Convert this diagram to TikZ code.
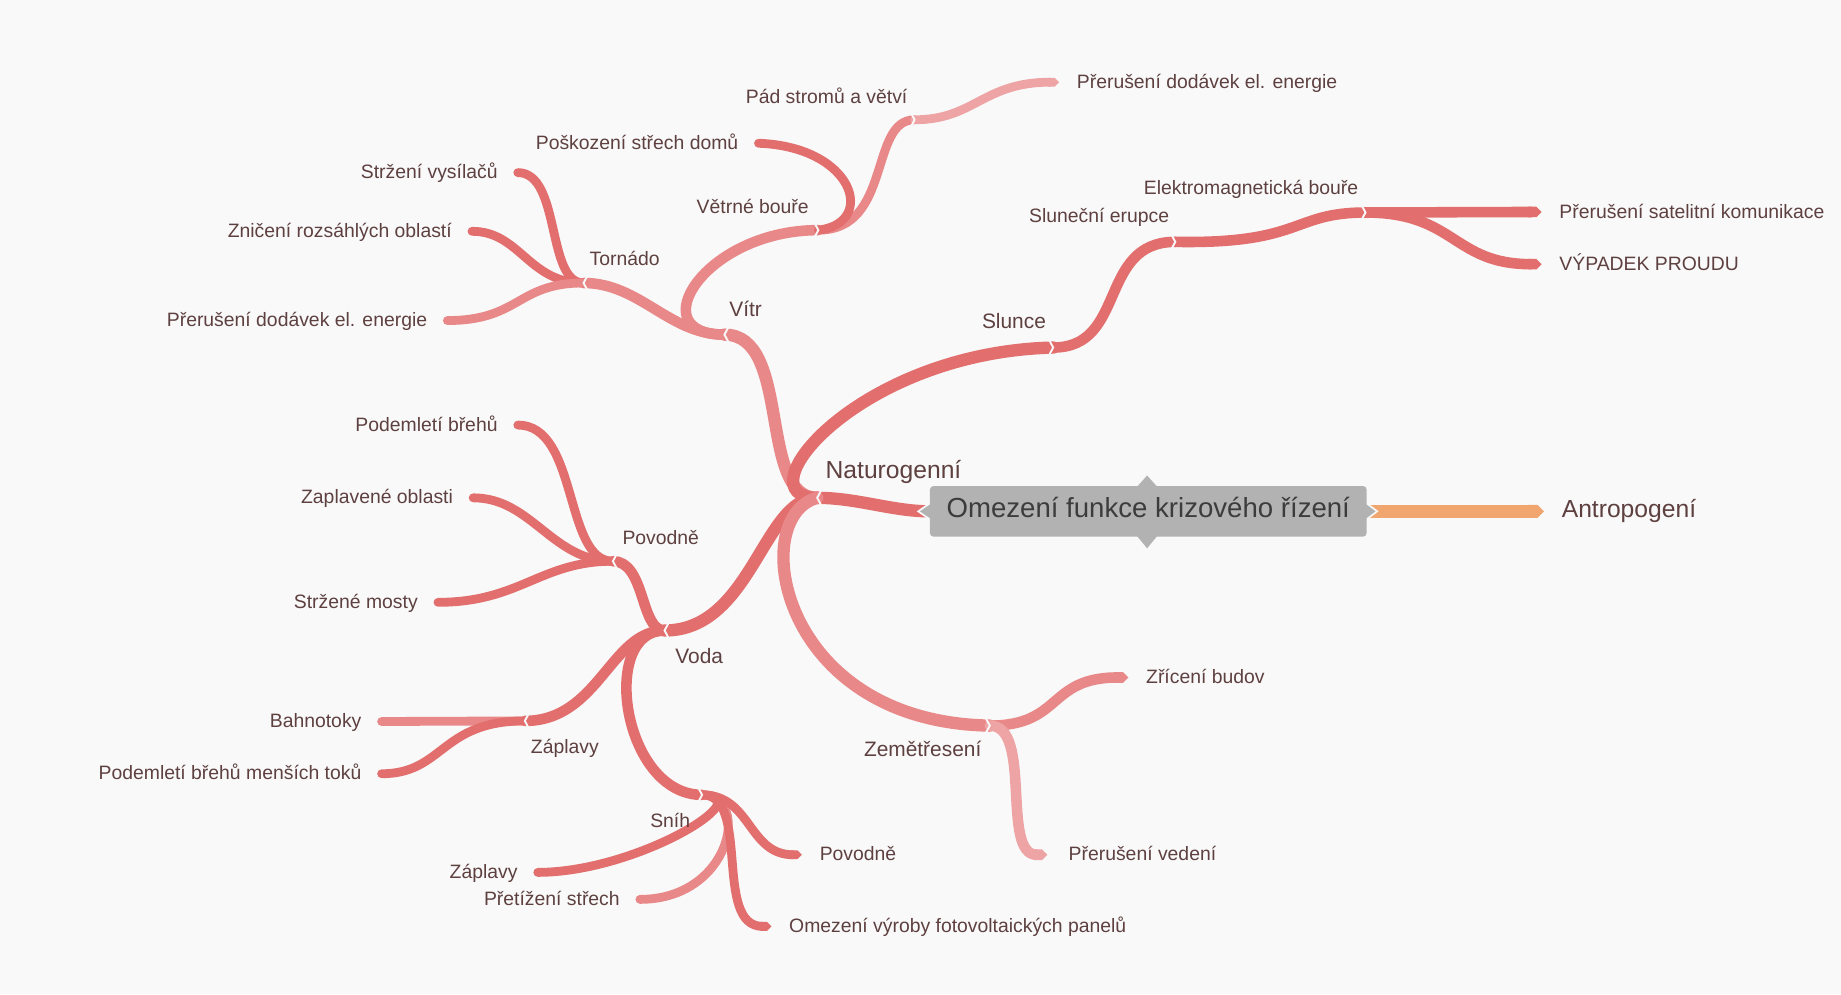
\documentclass[tikz,border=0pt]{standalone}
\usepackage{fontspec}
\setmainfont{Liberation Sans}
\usetikzlibrary{arrows.meta,positioning}
\definecolor{paper}{RGB}{249,249,249}
\definecolor{rose}{RGB}{226,110,110}
\definecolor{blush}{RGB}{232,136,136}
\definecolor{pale}{RGB}{238,164,164}
\definecolor{apricot}{RGB}{240,166,110}
\definecolor{ink}{RGB}{94,64,64}
\definecolor{slate}{RGB}{60,60,60}
\definecolor{stone}{RGB}{178,178,178}

\begin{document}
\begin{tikzpicture}[x=1pt,y=-1pt,
 every node/.style={text=ink,inner sep=0pt,text height=1.05em,text depth=0em},
 leaf/.style={font=\fontsize{16.5}{19}\selectfont},
 topic/.style={font=\fontsize{17.8}{21}\selectfont},
 rootlabel/.style={font=\fontsize{21}{25}\selectfont},
 trunk/.style={rose,line width=10.5pt,line cap=round},
 branch/.style={rose,line width=9pt,line cap=round},
 twig/.style={rose,line width=7.5pt,line cap=round},
 pointed/.style={-{Triangle Cap[]}},
 notchl/.pic={\draw[paper,line width=1.6pt,line join=miter] (3.5,-6.5)--(0,0)--(3.5,6.5);},
 notchr/.pic={\draw[paper,line width=1.6pt,line join=miter] (-3.5,-6.5)--(0,0)--(-3.5,6.5);}]
 \fill[paper] (0,0) rectangle (1568,847);
 \useasboundingbox (0,0) rectangle (1568,847);
 % topic points of the map
 \coordinate (corel) at (792,435.5);
 \coordinate (corer) at (1164,435.5);
 \coordinate (naturo) at (696,424);
 \coordinate (vitr) at (617,285);
 \coordinate (tornado) at (497,241);
 \coordinate (vetrne) at (697,196);
 \coordinate (pad) at (779,102);
 \coordinate (slunce) at (897,296);
 \coordinate (erupce) at (1001,206);
 \coordinate (elmag) at (1163,181);
 \coordinate (voda) at (566,537);
 \coordinate (povodne) at (522,478);
 \coordinate (zaplavy) at (447,614);
 \coordinate (snih) at (598,677);
 \coordinate (zeme) at (843,618);
 % free ends of the leaves
 \coordinate (vysilace) at (441,147);
 \coordinate (zniceni) at (402,197);
 \coordinate (dodavkyL) at (381,273);
 \coordinate (strechy) at (646,122);
 \coordinate (dodavkyR) at (902,70);
 \coordinate (satelit) at (1313,180.5);
 \coordinate (vypadek) at (1313,225);
 \coordinate (brehy) at (441,362);
 \coordinate (oblasti) at (403,424);
 \coordinate (mosty) at (373,513);
 \coordinate (bahno) at (325,614.5);
 \coordinate (toky) at (325,659);
 \coordinate (snihzapl) at (458,743);
 \coordinate (pretizeni) at (545,766);
 \coordinate (snihpov) at (683,728);
 \coordinate (panely) at (657,789);
 \coordinate (budovy) at (961,577);
 \coordinate (vedeni) at (892,728);
 \coordinate (antro) at (1315,435.5);

 \draw[trunk] (corel) .. controls +(-32,0) and +(34,0) .. (naturo);
 \draw[apricot,line width=11pt,pointed] (corer) -- (antro);
 \draw[trunk,blush] (naturo) .. controls +(-51,0) and +(58,0) .. (vitr);
 \draw[trunk] (naturo) .. controls +(-66,0) and +(-167,4) .. (slunce);
 \draw[trunk] (naturo) .. controls +(-46,0) and +(74,0) .. (voda);
 \draw[trunk,blush] (naturo) .. controls +(-60,16) and +(-180,-3) .. (zeme);
 % wind
 \draw[branch,blush] (vitr) .. controls +(-47,0) and +(48,0) .. (tornado);
 \draw[branch,blush] (vitr) .. controls +(-72,0) and +(-97,0) .. (vetrne);
 \draw[twig] (tornado) .. controls +(-32,0) and +(37,0) .. (vysilace);
 \draw[twig] (tornado) .. controls +(-47,0) and +(41,0) .. (zniceni);
 \draw[twig,blush] (tornado) .. controls +(-57,0) and +(62,0) .. (dodavkyL);
 \draw[twig,blush] (vetrne) .. controls +(63,0) and +(-39,0) .. (pad);
 \draw[twig] (vetrne) .. controls +(50,-6) and +(82,3) .. (strechy);
 \draw[twig,pale,pointed] (pad) .. controls +(51,0) and +(-65,0) .. (dodavkyR);
 % sun
 \draw[branch] (slunce) .. controls +(63,0) and +(-66,0) .. (erupce);
 \draw[branch] (erupce) .. controls +(109,2) and +(-63,0) .. (elmag);
 \draw[branch,pointed] (elmag) -- (satelit);
 \draw[branch,pointed] (elmag) .. controls +(77,0) and +(-76,0) .. (vypadek);
 % water
 \draw[branch] (voda) .. controls +(-21,0) and +(28,0) .. (povodne);
 \draw[branch] (voda) .. controls +(-46,0) and +(63,0) .. (zaplavy);
 \draw[branch] (voda) .. controls +(-56,0) and +(-68,0) .. (snih);
 \draw[twig] (povodne) .. controls +(-42,0) and +(52,0) .. (brehy);
 \draw[twig] (povodne) .. controls +(-52,0) and +(50,0) .. (oblasti);
 \draw[twig] (povodne) .. controls +(-62,0) and +(70,0) .. (mosty);
 \draw[twig,blush] (zaplavy) -- (bahno);
 \draw[twig] (zaplavy) .. controls +(-72,0) and +(53,0) .. (toky);
 \draw[twig] (snih) .. controls +(52,0) and +(85,0) .. (snihzapl);
 \draw[twig,blush] (snih) .. controls +(42,0) and +(78,0) .. (pretizeni);
 \draw[twig,pointed] (snih) .. controls +(42,0) and +(-46,0) .. (snihpov);
 \draw[twig,pointed] (snih) .. controls +(42,0) and +(-50,0) .. (panely);
 % earthquake
 \draw[branch,blush,pointed] (zeme) .. controls +(62,0) and +(-69,0) .. (budovy);
 \draw[branch,pale,pointed] (zeme) .. controls +(37,0) and +(-40,0) .. (vedeni);

 \pic at (naturo) {notchl};
 \pic at (vitr) {notchl};
 \pic at (tornado) {notchl};
 \pic at (voda) {notchl};
 \pic at (povodne) {notchl};
 \pic at (zaplavy) {notchl};
 \pic at (vetrne) {notchr};
 \pic at (pad) {notchr};
 \pic at (slunce) {notchr};
 \pic at (erupce) {notchr};
 \pic at (elmag) {notchr};
 \pic at (snih) {notchr};
 \pic at (zeme) {notchr};

 % central topic with its four tabs
 \fill[stone] (968,415)--(977,405)--(986,415)--cycle;
 \fill[stone] (968,456)--(977,467)--(986,456)--cycle;
 \filldraw[fill=stone,draw=paper,line width=1.4pt] (793,428)--(782,435.5)--(793,443);
 \filldraw[fill=stone,draw=paper,line width=1.4pt] (1163,428)--(1173,435.5)--(1163,443);
 \node[fill=stone,rounded corners=3pt,minimum width=372pt,minimum height=43pt,
       text=slate,font=\fontsize{23.5}{28}\selectfont] (core) at (978,435.5)
       {Omezení funkce krizového řízení};

 \node[rootlabel,above right=16pt and 7pt of naturo] (naturoL) {Naturogenní};
 \node[rootlabel,right=15pt of antro] (antroL) {Antropogení};
 \node[topic,above right=15pt and 4pt of vitr] (vitrL) {Vítr};
 \node[topic,above left=16pt and 6pt of slunce] (slunceL) {Slunce};
 \node[topic,below right=17pt and 9pt of voda] (vodaL) {Voda};
 \node[topic,below left=16pt and 7pt of zeme] (zemeL) {Zemětřesení};
 \node[leaf,above right=15pt and 5pt of tornado] (tornadoL) {Tornádo};
 \node[leaf,above left=14pt and 8pt of vetrne] (vetrneL) {Větrné bouře};
 \node[leaf,above left=14pt and 6pt of pad] (padL) {Pád stromů a větví};
 \node[leaf,above left=16pt and 5pt of erupce] (erupceL) {Sluneční erupce};
 \node[leaf,above left=15pt and 6pt of elmag] (elmagL) {Elektromagnetická bouře};
 \node[leaf,above right=14pt and 8pt of povodne] (povodneL) {Povodně};
 \node[leaf,below right=17pt and 5pt of zaplavy] (zaplavyL) {Záplavy};
 \node[leaf,below left=17pt and 10pt of snih] (snihL) {Sníh};

 \node[leaf,left=17pt of vysilace] (vysilaceL) {Stržení vysílačů};
 \node[leaf,left=17pt of zniceni] (zniceniL) {Zničení rozsáhlých oblastí};
 \node[leaf,left=17pt of dodavkyL] (dodavkyLL) {Přerušení dodávek el. energie};
 \node[leaf,left=17pt of strechy] (strechyL) {Poškození střech domů};
 \node[leaf,right=15pt of dodavkyR] (dodavkyRL) {Přerušení dodávek el. energie};
 \node[leaf,right=15pt of satelit] (satelitL) {Přerušení satelitní komunikace};
 \node[leaf,right=15pt of vypadek] (vypadekL) {VÝPADEK PROUDU};
 \node[leaf,left=17pt of brehy] (brehyL) {Podemletí břehů};
 \node[leaf,left=17pt of oblasti] (oblastiL) {Zaplavené oblasti};
 \node[leaf,left=17pt of mosty] (mostyL) {Stržené mosty};
 \node[leaf,left=17pt of bahno] (bahnoL) {Bahnotoky};
 \node[leaf,left=17pt of toky] (tokyL) {Podemletí břehů menších toků};
 \node[leaf,left=17pt of snihzapl] (snihzaplL) {Záplavy};
 \node[leaf,left=17pt of pretizeni] (pretizeniL) {Přetížení střech};
 \node[leaf,right=15pt of snihpov] (snihpovL) {Povodně};
 \node[leaf,right=15pt of panely] (panelyL) {Omezení výroby fotovoltaických panelů};
 \node[leaf,right=15pt of budovy] (budovyL) {Zřícení budov};
 \node[leaf,right=18pt of vedeni] (vedeniL) {Přerušení vedení};
\end{tikzpicture}
\end{document}
